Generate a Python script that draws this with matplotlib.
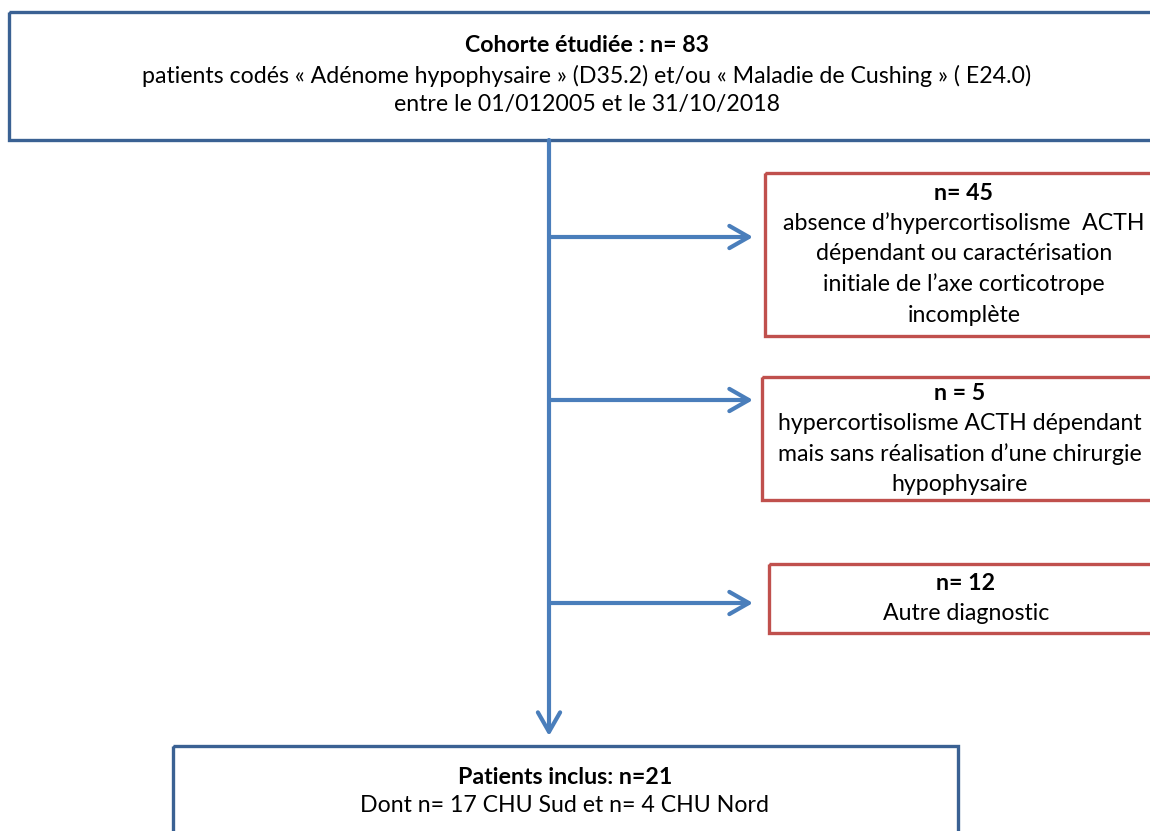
import matplotlib
matplotlib.use("Agg")
import matplotlib.pyplot as plt
from matplotlib.patches import Rectangle

plt.rcParams['font.family'] = ['Lato', 'DejaVu Sans']

# Box texts
top_title = "Cohorte étudiée : n= 83"
top_lines = ["patients codés « Adénome hypophysaire » (D35.2) et/ou « Maladie de Cushing » ( E24.0)",
             "entre le 01/012005 et le 31/10/2018"]
excl_titles = ["n= 45", "n = 5", "n= 12"]
excl_lines = [["absence d\u2019hypercortisolisme  ACTH", "dépendant ou caractérisation",
               "initiale de l\u2019axe corticotrope", "incomplète"],
              ["hypercortisolisme ACTH dépendant", "mais sans réalisation d\u2019une chirurgie",
               "hypophysaire"],
              ["Autre diagnostic"]]
bottom_title = "Patients inclus: n=21"
bottom_lines = ["Dont n= 17 CHU Sud et n= 4 CHU Nord"]

W, H = 1150, 831
fig = plt.figure(figsize=(W / 100, H / 100), dpi=100)
ax = fig.add_axes([0, 0, 1, 1])
ax.set_xlim(0, W)
ax.set_ylim(H, 0)
ax.axis('off')

dark_blue = '#3A6193'
blue = '#4A7EBB'
red = '#C0504D'
fs = 16.7

def box(x0, y0, x1, y1, color):
    ax.add_patch(Rectangle((x0, y0), x1 - x0, y1 - y0, fill=False, edgecolor=color,
                           linewidth=2.4, joinstyle='miter'))

def block(cx, y, title, lines, spacing):
    ax.text(cx, y, title, ha='center', va='center', fontsize=fs, fontweight='bold', color='black')
    for i, t in enumerate(lines):
        ax.text(cx, y + spacing * (i + 1), t, ha='center', va='center', fontsize=fs, color='black')

# Top box
box(9, 12, 1165, 140, dark_blue)
block(587, 46, top_title, top_lines, spacing=29.5)

# Main vertical arrow
ax.annotate('', xy=(549, 736), xytext=(549, 140),
            arrowprops=dict(arrowstyle='->,head_length=14,head_width=8', color=blue,
                            lw=3, shrinkA=0, shrinkB=0, mutation_scale=1))

# Exclusion boxes
excl_boxes = [(765, 173, 1165, 336), (762, 377, 1165, 500), (769, 564, 1165, 633)]
branch_y = [237, 400, 603]
text_y = [193, 393, 583]
text_cx = [964, 960, 966]
for (x0, y0, x1, y1), by, ty, cx, t, ls in zip(excl_boxes, branch_y, text_y, text_cx,
                                               excl_titles, excl_lines):
    box(x0, y0, x1, y1, red)
    ax.annotate('', xy=(753, by), xytext=(549, by),
                arrowprops=dict(arrowstyle='->,head_length=14,head_width=8', color=blue,
                                lw=3, shrinkA=0, shrinkB=0, mutation_scale=1))
    block(cx, ty, t, ls, spacing=30.5)

# Bottom box
box(173, 746, 958, 850, dark_blue)
block(565, 777, bottom_title, bottom_lines, spacing=29)

fig.savefig('out.png', dpi=100)
